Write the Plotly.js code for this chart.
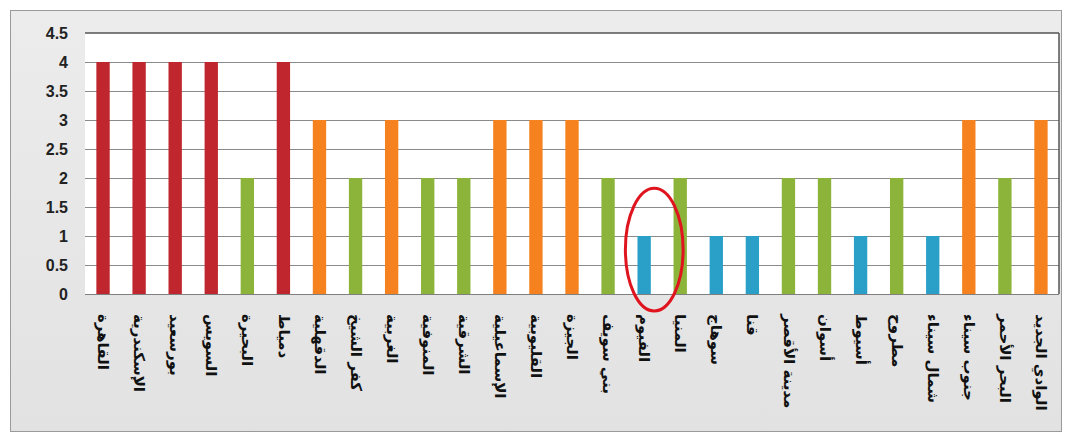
<!DOCTYPE html>
<html>
<head>
<meta charset="utf-8">
<script src="https://cdn.plot.ly/plotly-3.0.1.min.js"></script>
<style>
html,body{margin:0;padding:0;background:#fff;width:1078px;height:439px;overflow:hidden;}
#frame{position:absolute;left:10px;top:10px;width:1050px;height:420px;border:1px solid #9a9a9a;
background:linear-gradient(180deg,#ececec 0%,#e2e2e2 100%);}
#chart{width:1050px;height:420px;}
</style>
</head>
<body>
<div id="frame"><div id="chart"></div></div>
<script>
const governorates = ["القاهرة","الإسكندرية","بورسعيد","السويس","البحيرة","دمياط","الدقهلية","كفر الشيخ","الغربية","المنوفية","الشرقية","الإسماعيلية","القليوبية","الجيزة","بني سويف","الفيوم","المنيا","سوهاج","قنا","مدينة الأقصر","أسوان","أسيوط","مطروح","شمال سيناء","جنوب سيناء","البحر الأحمر","الوادي الجديد"];
const levels = [4,4,4,4,2,4,3,2,3,2,2,3,3,3,2,1,2,1,1,2,2,1,2,1,3,2,3];
const levelColors = {4:"#c0262e",3:"#f5821f",2:"#8cb43a",1:"#2aa0c8"};
const yTicks = [0,0.5,1,1.5,2,2.5,3,3.5,4,4.5];
const highlighted = "الفيوم";

const hi = governorates.indexOf(highlighted);
const trace = {
  type:"bar",
  x: governorates,
  y: levels,
  marker:{color: levels.map(v=>levelColors[v]), line:{width:0}},
  hoverinfo:"x+y"
};
const layout = {
  width:1050, height:420,
  margin:{l:74,r:2,t:22,b:137},
  paper_bgcolor:"rgba(0,0,0,0)",
  plot_bgcolor:"#ffffff",
  bargap:0.63,
  showlegend:false,
  font:{family:"DejaVu Sans, Arial, sans-serif",color:"#222"},
  xaxis:{
    type:"category",
    tickangle:90,
    tickfont:{family:"DejaVu Sans, sans-serif",size:15,color:"#111",weight:"bold"},
    ticklabelstandoff:16,
    showline:true, linecolor:"#7f7f7f", linewidth:1,
    ticks:"", showgrid:false, mirror:false, automargin:false
  },
  yaxis:{
    range:[0,4.5],
    tickvals:yTicks,
    ticktext:yTicks.map(String),
    tickfont:{family:"Liberation Sans, Arial, sans-serif",size:16,color:"#222",weight:"bold"},
    ticklabelstandoff:16,
    showgrid:true, gridcolor:"#8a8a8a", gridwidth:1,
    zeroline:true, zerolinecolor:"#7f7f7f",
    showline:false, ticks:"", ticklen:0, automargin:false
  },
  shapes:[
    {type:"line",xref:"paper",yref:"paper",x0:1,x1:1,y0:0,y1:1,line:{color:"#555",width:1.5}},
    {type:"line",xref:"paper",yref:"paper",x0:0,x1:1,y0:1,y1:1,line:{color:"#555",width:1.5}},
    {type:"circle",xref:"x",yref:"paper",x0:hi-0.52,x1:hi+1.08,y0:-0.065,y1:0.405,
     line:{color:"#e0141e",width:3},layer:"above"}
  ]
};
Plotly.newPlot("chart",[trace],layout,{displayModeBar:false,staticPlot:true});
</script>
</body>
</html>
